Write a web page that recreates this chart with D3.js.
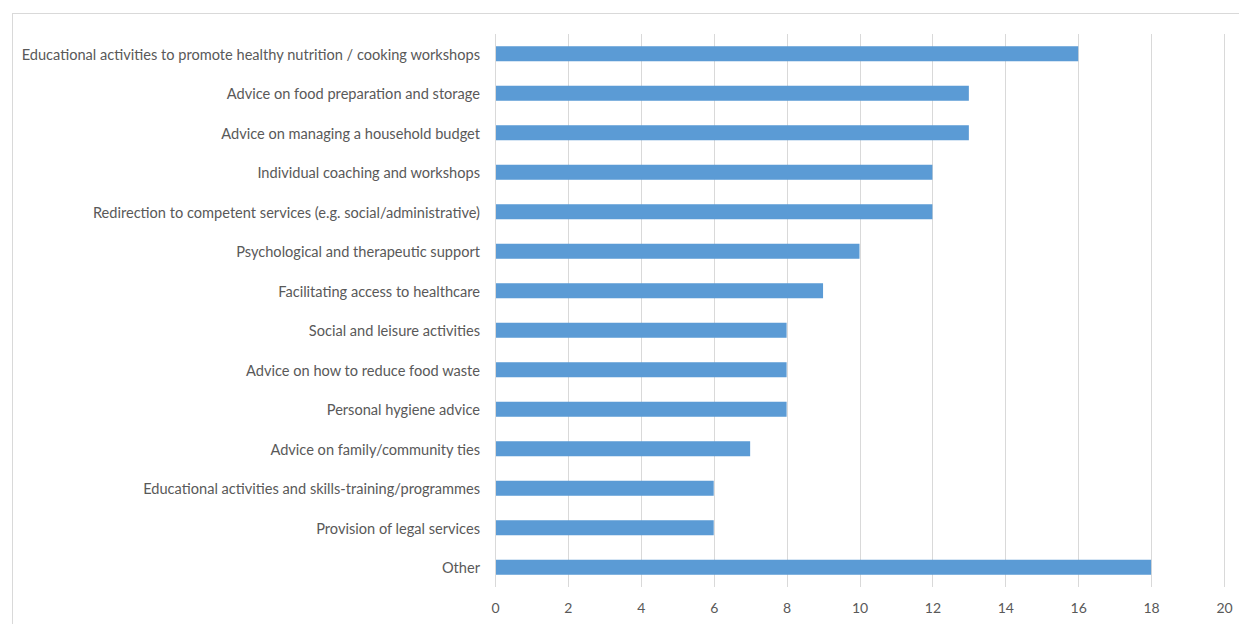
<!DOCTYPE html>
<html>
<head>
<meta charset="utf-8">
<script src="https://cdn.jsdelivr.net/npm/d3@7"></script>
<style>
  body { margin: 0; background: #fff; }
  svg { display: block; font-family: "Lato", "Open Sans", sans-serif; }
</style>
</head>
<body>
<div id="chart"></div>
<script>
// chart values
const categories = [
  "Educational activities to promote healthy nutrition / cooking workshops",
  "Advice on food preparation and storage",
  "Advice on managing a household budget",
  "Individual coaching and workshops",
  "Redirection to competent services (e.g. social/administrative)",
  "Psychological and therapeutic support",
  "Facilitating access to healthcare",
  "Social and leisure activities",
  "Advice on how to reduce food waste",
  "Personal hygiene advice",
  "Advice on family/community ties",
  "Educational activities and skills-training/programmes",
  "Provision of legal services",
  "Other"
];
const counts = [16, 13, 13, 12, 12, 10, 9, 8, 8, 8, 7, 6, 6, 18];
const xTicks = [0, 2, 4, 6, 8, 10, 12, 14, 16, 18, 20];

// setting up constants
const FRAME_WIDTH = 1239;
const FRAME_HEIGHT = 624;
const MARGINS = {left: 495, right: 15, top: 34, bottom: 37};

const svg = d3.select("#chart")
    .append("svg")
    .attr("width", FRAME_WIDTH)
    .attr("height", FRAME_HEIGHT);

// outer chart border
svg.append("rect")
    .attr("x", 12.5)
    .attr("y", 13.5)
    .attr("width", FRAME_WIDTH)
    .attr("height", FRAME_HEIGHT)
    .attr("fill", "none")
    .attr("stroke", "#d9d9d9");

const xScale = d3.scaleLinear()
    .domain([0, 20])
    .range([MARGINS.left, FRAME_WIDTH - MARGINS.right]);

const yScale = d3.scaleBand()
    .domain(categories)
    .range([MARGINS.top, FRAME_HEIGHT - MARGINS.bottom])
    .paddingInner(0.62)
    .paddingOuter(0.31);

// vertical gridlines
svg.append("g")
    .selectAll("line")
    .data(xTicks)
    .enter()
    .append("line")
    .attr("x1", d => Math.round(xScale(d)) + 0.5)
    .attr("x2", d => Math.round(xScale(d)) + 0.5)
    .attr("y1", MARGINS.top)
    .attr("y2", FRAME_HEIGHT - MARGINS.bottom)
    .attr("stroke", "#d9d9d9");

// bars
svg.append("g")
    .selectAll("rect")
    .data(categories)
    .enter()
    .append("rect")
    .attr("x", xScale(0) + 1)
    .attr("y", d => yScale(d))
    .attr("width", (d, i) => xScale(counts[i]) - xScale(0) - 1)
    .attr("height", yScale.bandwidth())
    .attr("fill", "#5b9bd5");

// x axis
const xAxis = svg.append("g")
    .attr("transform", "translate(0," + (FRAME_HEIGHT - MARGINS.bottom) + ")")
    .call(d3.axisBottom(xScale).tickValues(xTicks).tickSize(0).tickPadding(16));
xAxis.select(".domain").remove();
xAxis.selectAll("text")
    .attr("fill", "#595959")
    .style("font-size", "14px")
    .style("font-family", "Lato, 'Open Sans', sans-serif");

// y axis labels
const yAxis = svg.append("g")
    .attr("transform", "translate(" + (MARGINS.left - 15) + ",0)")
    .call(d3.axisLeft(yScale).tickSize(0).tickPadding(0));
yAxis.select(".domain").remove();
yAxis.selectAll("text")
    .attr("fill", "#595959")
    .attr("dy", "0.4em")
    .style("font-size", "14.6px")
    .style("font-family", "Lato, 'Open Sans', sans-serif");
</script>
</body>
</html>
